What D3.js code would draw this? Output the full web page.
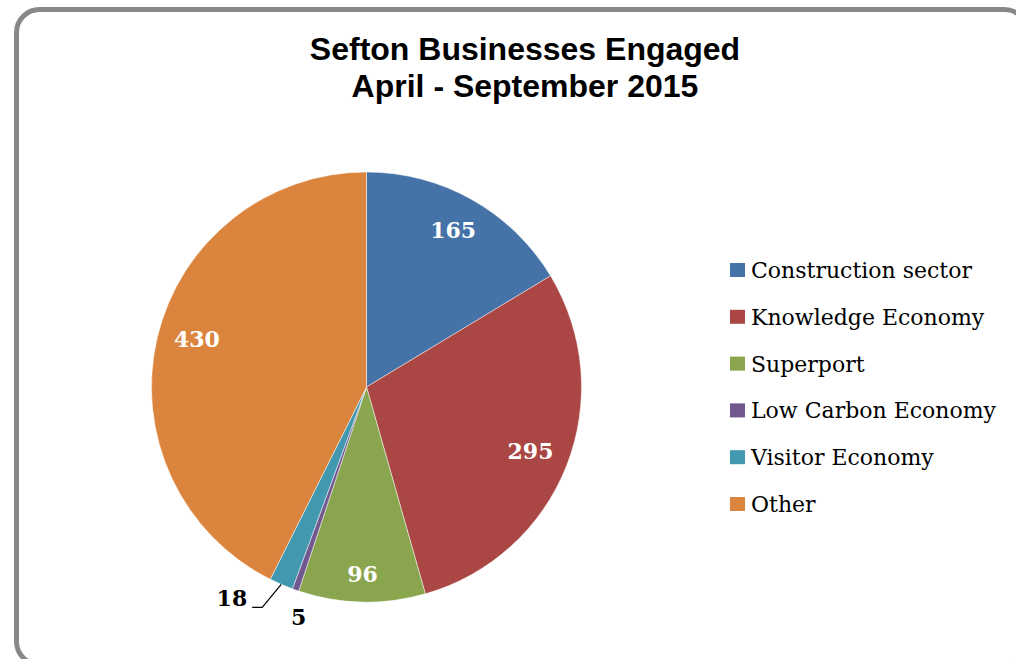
<!DOCTYPE html>
<html>
<head>
<meta charset="utf-8">
<script src="https://cdn.jsdelivr.net/npm/d3@7"></script>
<style>
  html, body { margin: 0; padding: 0; background: #fff; }
  svg { display: block; }
</style>
</head>
<body>
<svg id="chart" width="1016" height="659"></svg>
<script>
// Businesses engaged, April - September 2015, by sector
const categories = ["Construction sector", "Knowledge Economy", "Superport",
                    "Low Carbon Economy", "Visitor Economy", "Other"];
const values = [165, 295, 96, 5, 18, 430];
const colors = ["#4572A7", "#AA4643", "#89A54E", "#71588F", "#4198AF", "#DB843D"];
const titleLines = ["Sefton Businesses Engaged", "April - September 2015"];

const svg = d3.select("#chart");

// frame
svg.append("rect")
  .attr("x", 16.5).attr("y", 9.5)
  .attr("width", 1011).attr("height", 655)
  .attr("rx", 23).attr("ry", 23)
  .attr("fill", "#fff")
  .attr("stroke", "#888").attr("stroke-width", 5);

// title
const title = svg.append("text")
  .attr("text-anchor", "middle")
  .attr("font-family", "Liberation Sans, Arial, sans-serif")
  .attr("font-weight", "bold")
  .attr("font-size", 32)
  .attr("fill", "#000");
title.selectAll("tspan").data(titleLines).join("tspan")
  .attr("x", 525)
  .attr("y", (d, i) => 60 + i * 37)
  .text(d => d);

// pie
const cx = 366.5, cy = 387, R = 215;
const pie = d3.pie().sort(null).value(d => d.value);
const data = categories.map((c, i) => ({ name: c, value: values[i], color: colors[i] }));
const arcs = pie(data);
const arc = d3.arc().innerRadius(0).outerRadius(R);

const g = svg.append("g").attr("transform", `translate(${cx},${cy})`);
g.selectAll("path").data(arcs).join("path")
  .attr("d", arc)
  .attr("fill", d => d.data.color)
  .attr("stroke", "rgba(255,255,255,0.6)")
  .attr("stroke-width", 0.8);

// data labels: large slices inside, small ones outside
const labelFont = "DejaVu Serif, Cambria, serif";
const labelSize = 22;
// radial placement of inside labels, as a fraction of the radius, plus a nudge
const insidePlacement = {
  "Construction sector": { r: 0.83, nudge: [-1, -2] },
  "Knowledge Economy":   { r: 0.82, nudge: [0, -1] },
  "Superport":           { r: 0.87, nudge: [0, 0] },
  "Other":               { r: 0.82, nudge: [2, -7] }
};
const polar = (a, r) => [Math.sin(a) * r, -Math.cos(a) * r];

const label = (x, y, txt, fill, anchor) => g.append("text")
  .attr("x", x).attr("y", y)
  .attr("dy", "0.36em")
  .attr("text-anchor", anchor || "middle")
  .attr("font-family", labelFont)
  .attr("font-weight", "bold")
  .attr("font-size", labelSize)
  .attr("fill", fill)
  .text(txt);

arcs.forEach(d => {
  const mid = (d.startAngle + d.endAngle) / 2;
  const name = d.data.name;
  const place = insidePlacement[name];
  if (place) {
    const [x, y] = polar(mid, R * place.r);
    label(x + place.nudge[0], y + place.nudge[1], d.data.value, "#fff");
  } else if (name === "Visitor Economy") {
    // leader line from the slice edge to an elbow, then a short horizontal run
    const [x0, y0] = polar(mid, R);
    const x1 = x0 - 19, y1 = y0 + 23;
    const x2 = x1 - 10;
    g.append("polyline")
      .attr("points", [[x0, y0], [x1, y1], [x2, y1]].map(p => p.join(",")).join(" "))
      .attr("fill", "none")
      .attr("stroke", "#000")
      .attr("stroke-width", 1.2);
    label(x2 - 5, y1 - 9, d.data.value, "#000", "end");
  } else {
    const [x, y] = polar(mid, R);
    label(x + 3, y + 27, d.data.value, "#000");
  }
});

// legend
const legend = svg.append("g").attr("transform", "translate(730,263)");
const rows = legend.selectAll("g").data(data).join("g")
  .attr("transform", (d, i) => `translate(0,${i * 46.8})`);
rows.append("rect")
  .attr("width", 15).attr("height", 14)
  .attr("fill", d => d.color);
rows.append("text")
  .attr("x", 21).attr("y", 15)
  .attr("font-family", labelFont)
  .attr("font-size", 22)
  .attr("fill", "#000")
  .text(d => d.name);
</script>
</body>
</html>
